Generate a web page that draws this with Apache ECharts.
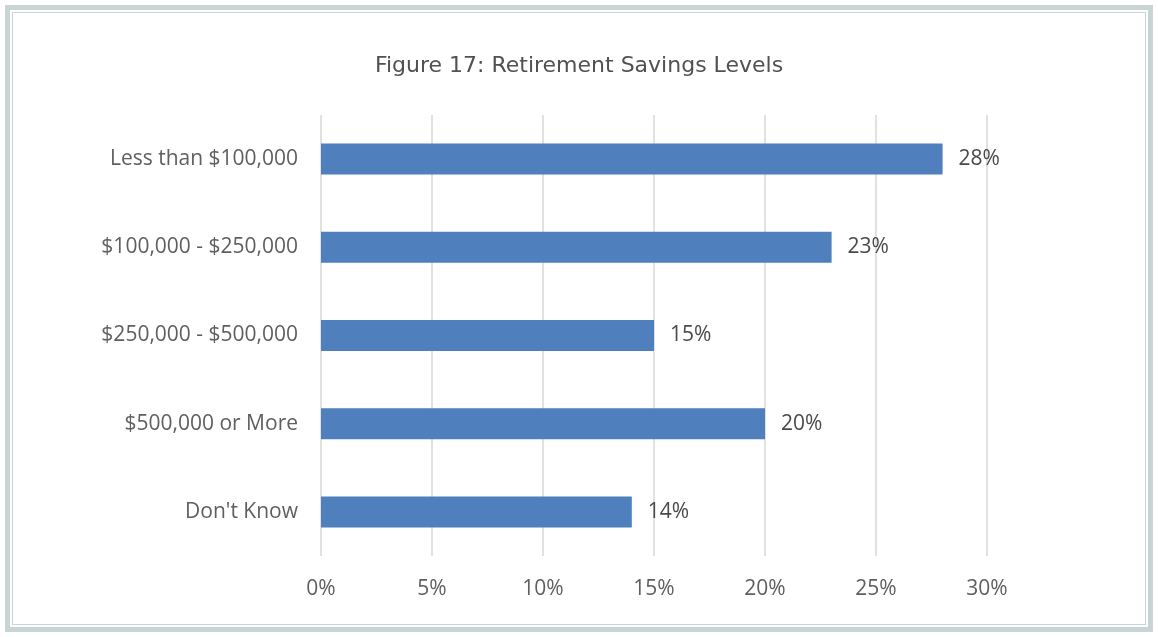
<!DOCTYPE html>
<html>
<head>
<meta charset="utf-8">
<script src="https://cdn.jsdelivr.net/npm/echarts@6/dist/echarts.min.js"></script>
<style>
  html, body { margin: 0; padding: 0; background: #fff; }
  .frame {
    position: absolute; left: 5px; top: 5px; width: 1148px; height: 627px;
    box-sizing: border-box; border: 5px solid #c9d4d5;
  }
  .frame-inner {
    position: absolute; left: 2px; top: 2px; right: 2px; bottom: 2px;
    border: 1px solid #c9d4d5;
  }
  #chart { position: absolute; left: 0; top: 0; width: 1158px; height: 637px; }
</style>
</head>
<body>
<div class="frame"><div class="frame-inner"></div></div>
<div id="chart"></div>
<script>
// 数据
const categories = ['Less than $100,000', '$100,000 - $250,000', '$250,000 - $500,000', '$500,000 or More', "Don't Know"];
const shares = [28, 23, 15, 20, 14];
const tickMax = 30;
const tickStep = 5;

const chart = echarts.init(document.getElementById('chart'));

const labelFont = {
  fontFamily: 'Open Sans',
  fontSize: 21,
  color: '#5f5f5f',
};

const option = {
  title: {
    text: 'Figure 17: Retirement Savings Levels',
    left: 'center',
    top: 50,
    textStyle: {
      fontFamily: 'DejaVu Sans',
      fontSize: 22,
      fontWeight: 'normal',
      color: '#505153',
    },
  },
  grid: {
    left: 321,
    right: 171,
    top: 115,
    bottom: 81,
    containLabel: false,
    outerBoundsMode: 'none',
  },
  xAxis: {
    type: 'value',
    min: 0,
    max: tickMax,
    interval: tickStep,
    axisLine: { show: false },
    axisTick: { show: false },
    splitLine: { lineStyle: { color: '#e3e0e0', width: 2 } },
    axisLabel: { formatter: '{value}%', margin: 23, ...labelFont },
  },
  yAxis: {
    type: 'category',
    data: categories,
    inverse: true,
    axisLine: { show: false },
    axisTick: { show: false },
    axisLabel: { margin: 23, ...labelFont },
  },
  series: [
    {
      type: 'bar',
      data: shares,
      barWidth: 31,
      itemStyle: { color: '#4f7fbd' },
      label: {
        show: true,
        position: 'right',
        distance: 16,
        formatter: '{c}%',
        ...labelFont,
        color: '#4a4a4a',
      },
    },
  ],
  animation: false,
};

chart.setOption(option);
</script>
</body>
</html>
